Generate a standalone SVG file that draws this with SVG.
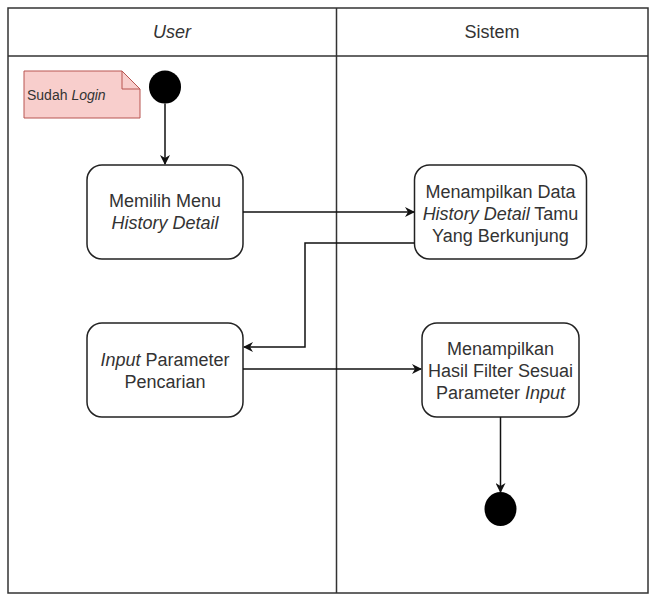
<svg xmlns="http://www.w3.org/2000/svg" width="649" height="595" viewBox="0 0 649 595">
  <style>
    .lane { fill: none; stroke: #333; stroke-width: 1.5; }
    .act { fill: #fff; stroke: #222; stroke-width: 1.5; }
    .txt { font-family: "Liberation Sans", Arial, sans-serif; font-size: 18px; fill: #333; text-anchor: middle; }
    .it { font-style: italic; }
    .edge { fill: none; stroke: #111; stroke-width: 1.5; }
    .dot { fill: #000; }
  </style>
  <defs>
    <marker id="arrow" viewBox="0 0 10 10" refX="9" refY="5" markerWidth="10" markerHeight="10" markerUnits="userSpaceOnUse" orient="auto">
      <path d="M0,0 L10,5 L0,10 L3,5 Z" fill="#111"/>
    </marker>
  </defs>
  <rect width="649" height="595" fill="#fff"/>

  <!-- swimlanes -->
  <g id="lanes">
    <rect class="lane" x="8" y="8" width="640" height="585"/>
    <line class="lane" x1="8" y1="56" x2="648" y2="56"/>
    <line class="lane" x1="336.5" y1="8" x2="336.5" y2="593"/>
    <text class="txt it" x="172" y="38">User</text>
    <text class="txt" x="492" y="38">Sistem</text>
  </g>

  <!-- note -->
  <g id="note">
    <path d="M24,71 H122 L140,89 V118 H24 Z" fill="#f8cecc" stroke="#b85450" stroke-width="1"/>
    <path d="M122,71 V89 H140" fill="none" stroke="#b85450" stroke-width="1"/>
    <text x="27" y="100" font-family="'Liberation Sans', Arial, sans-serif" font-size="14" fill="#333">Sudah <tspan font-style="italic">Login</tspan></text>
  </g>

  <g id="start">
    <ellipse class="dot" cx="165" cy="87" rx="16" ry="16.5"/>
  </g>

  <g id="memilih-menu">
    <rect class="act" x="87" y="165" width="156" height="94" rx="15"/>
    <text class="txt" x="165" y="207">Memilih Menu</text>
    <text class="txt it" x="165" y="229">History Detail</text>
  </g>

  <g id="tampil-data">
    <rect class="act" x="414.5" y="165" width="172" height="94" rx="15"/>
    <text class="txt" x="500.5" y="198">Menampilkan Data</text>
    <text class="txt" x="500.5" y="220"><tspan font-style="italic">History Detail</tspan> Tamu</text>
    <text class="txt" x="500.5" y="242">Yang Berkunjung</text>
  </g>

  <g id="input-parameter">
    <rect class="act" x="87" y="323" width="156" height="94" rx="15"/>
    <text class="txt" x="165" y="366"><tspan font-style="italic">Input</tspan> Parameter</text>
    <text class="txt" x="165" y="388">Pencarian</text>
  </g>

  <g id="tampil-hasil">
    <rect class="act" x="422" y="323" width="157" height="94" rx="15"/>
    <text class="txt" x="500.5" y="355">Menampilkan</text>
    <text class="txt" x="500.5" y="377">Hasil Filter Sesuai</text>
    <text class="txt" x="500.5" y="399">Parameter <tspan font-style="italic">Input</tspan></text>
  </g>

  <g id="end">
    <ellipse class="dot" cx="500.5" cy="509" rx="16" ry="17"/>
  </g>

  <!-- connectors -->
  <g id="connectors">
    <path class="edge" d="M165,103.5 V164" marker-end="url(#arrow)"/>
    <path class="edge" d="M243,212 H414" marker-end="url(#arrow)"/>
    <path class="edge" d="M414.5,243 H305 V347 H244" marker-end="url(#arrow)"/>
    <path class="edge" d="M243,369 H421" marker-end="url(#arrow)"/>
    <path class="edge" d="M500.5,417 V492" marker-end="url(#arrow)"/>
  </g>
</svg>
